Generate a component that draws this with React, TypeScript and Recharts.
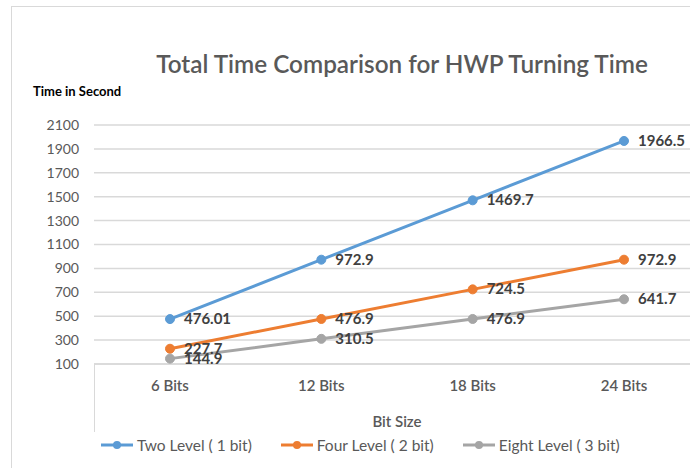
import React from 'react';
import { LineChart, Line, XAxis, YAxis, CartesianGrid, Legend } from 'recharts';

const categories = ['6 Bits', '12 Bits', '18 Bits', '24 Bits'];
const twoLevel = [476.01, 972.9, 1469.7, 1966.5];
const fourLevel = [227.7, 476.9, 724.5, 972.9];
const eightLevel = [144.9, 310.5, 476.9, 641.7];
const yTicks = [100, 300, 500, 700, 900, 1100, 1300, 1500, 1700, 1900, 2100];

const series = [
  { key: 'two', name: 'Two Level ( 1 bit)', color: '#5B9BD5' },
  { key: 'four', name: 'Four Level ( 2 bit)', color: '#ED7D31' },
  { key: 'eight', name: 'Eight Level ( 3 bit)', color: '#A5A5A5' },
];

const data = categories.map((c, i) => ({
  bits: c,
  two: twoLevel[i],
  four: fourLevel[i],
  eight: eightLevel[i],
}));

const font = 'Lato, "Open Sans", sans-serif';

const renderLabel = (props: any) => {
  const { x, y, value, index } = props;
  return (
    <text
      key={index}
      x={x + 14}
      y={y}
      dy={5}
      fontSize={15}
      fontWeight="bold"
      fill="#404040"
      fontFamily={font}
    >
      {value}
    </text>
  );
};

const renderLegend = (props: any) => {
  const order = series.map((s) => s.name);
  const payload = [...(props.payload || [])].sort(
    (a: any, b: any) => order.indexOf(a.value) - order.indexOf(b.value)
  );
  return (
    <div style={{ display: 'flex', fontFamily: font, fontSize: 15.5, color: '#595959' }}>
      {payload.map((p: any, i: number) => (
        <div key={i} style={{ display: 'flex', alignItems: 'center', marginRight: 28 }}>
          <svg width={34} height={10} style={{ marginRight: 3 }}>
            <line x1={1} y1={5} x2={33} y2={5} stroke={p.color} strokeWidth={3} />
            <circle cx={17} cy={5} r={4} fill={p.color} />
          </svg>
          <span>{p.value}</span>
        </div>
      ))}
    </div>
  );
};

const App: React.FC = () => {
  return (
    <div
      style={{
        position: 'absolute',
        left: 0,
        top: 0,
        width: 690,
        height: 468,
        overflow: 'hidden',
        background: '#fff',
        fontFamily: font,
      }}
    >
      <div
        style={{
          position: 'absolute',
          left: 11,
          top: 6,
          right: 0,
          bottom: 0,
          borderLeft: '1px solid #d9d9d9',
          borderTop: '1px solid #d9d9d9',
        }}
      />
      <div
        style={{
          position: 'absolute',
          top: 49,
          left: 102,
          width: 600,
          textAlign: 'center',
          fontSize: 24.3,
          fontWeight: 600,
          color: '#595959',
          whiteSpace: 'nowrap',
        }}
      >
        Total Time Comparison for HWP Turning Time
      </div>
      <div
        style={{
          position: 'absolute',
          top: 83,
          left: 33,
          fontSize: 13,
          fontWeight: 'bold',
          color: '#000',
        }}
      >
        Time in Second
      </div>
      <div
        style={{
          position: 'absolute',
          left: 94,
          top: 364,
          width: 1,
          height: 68,
          background: '#d9d9d9',
        }}
      />
      <div style={{ position: 'absolute', left: 0, top: 0 }}>
        <LineChart width={700} height={468} data={data} margin={{ top: 125, right: 0, bottom: 74, left: 0 }}>
          <CartesianGrid vertical={false} stroke="#d9d9d9" strokeWidth={1.5} />
          <XAxis
            dataKey="bits"
            height={30}
            padding={{ left: 76, right: 76 }}
            axisLine={{ stroke: '#d9d9d9', strokeWidth: 1.5 }}
            tickLine={false}
            tickSize={0}
            tickMargin={16}
            tick={{ fill: '#595959', fontSize: 15, fontWeight: 600, fontFamily: font }}
            label={{
              value: 'Bit Size',
              position: 'insideBottom',
              offset: -33,
              fill: '#595959',
              fontSize: 15,
              fontWeight: 600,
              fontFamily: font,
            }}
          />
          <YAxis
            width={94}
            domain={[100, 2100]}
            ticks={yTicks}
            interval={0}
            axisLine={false}
            tickLine={false}
            tickSize={0}
            tickMargin={15}
            tick={{ fill: '#595959', fontSize: 14, fontFamily: font }}
          />
          <Legend
            verticalAlign="middle"
            layout="horizontal"
            wrapperStyle={{ top: 436, left: 100, width: 'auto' }}
            content={renderLegend}
          />
          {series.map((s) => (
            <Line
              key={s.key}
              dataKey={s.key}
              name={s.name}
              stroke={s.color}
              strokeWidth={3}
              dot={{ r: 4.5, fill: s.color, stroke: s.color, strokeWidth: 1 }}
              activeDot={false}
              isAnimationActive={false}
              label={renderLabel}
            />
          ))}
        </LineChart>
      </div>
    </div>
  );
};

export default App;
